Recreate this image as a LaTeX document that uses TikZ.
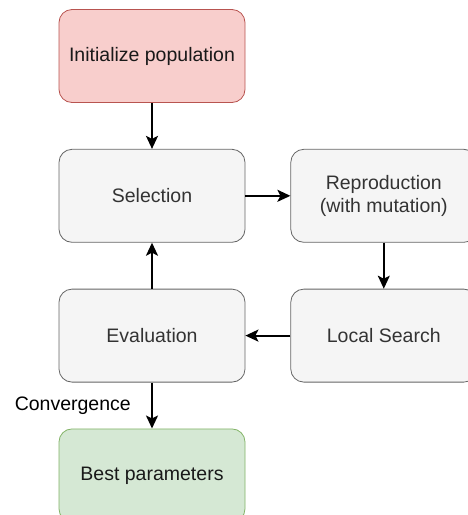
\documentclass[tikz,border=0pt]{standalone}
\usepackage{fontspec}
\setmainfont{Liberation Sans}
\usetikzlibrary{arrows.meta,positioning}
\definecolor{RFill}{HTML}{F8CECC}
\definecolor{RLine}{HTML}{B85450}
\definecolor{GFill}{HTML}{F5F5F5}
\definecolor{GLine}{HTML}{666666}
\definecolor{GText}{HTML}{333333}
\definecolor{VFill}{HTML}{D5E8D4}
\definecolor{VLine}{HTML}{82B366}

\begin{document}
\begin{tikzpicture}[
    x=1pt, y=-1pt,
    node distance=46pt and 45pt,
    box/.style={
      rounded corners=13pt,
      draw=GLine,
      fill=GFill,
      text=GText,
      line width=0.8pt,
      minimum width=186pt,
      minimum height=93pt,
      inner sep=0pt,
      align=center,
      font=\fontsize{19.5}{23}\selectfont
    },
    flow/.style={-{Stealth[length=13pt,width=12pt,inset=3pt]}, line width=1.8pt}
  ]
  \useasboundingbox (0,0) rectangle (468,515);
  \clip (0,0) rectangle (468,515);

  % left column, then the loop on the right
  \node[box, draw=RLine, fill=RFill, text=black!90] (init) at (152,56) {Initialize population};
  \node[box, below=of init] (select) {Selection};
  \node[box, right=of select] (repro) {Reproduction\\(with mutation)};
  \node[box, below=of repro] (local) {Local Search};
  \node[box, below=of select] (eval) {Evaluation};
  \node[box, draw=VLine, fill=VFill, text=black!90, below=of eval] (best) {Best parameters};

  \draw[flow] (init) -- (select);
  \draw[flow] (select) -- (repro);
  \draw[flow] (repro) -- (local);
  \draw[flow] (local) -- (eval);
  \draw[flow] (eval) -- (select);
  \draw[flow] (eval) -- node[midway, left=17pt, font=\fontsize{19.5}{23}\selectfont] (conv) {Convergence} (best);
\end{tikzpicture}
\end{document}
